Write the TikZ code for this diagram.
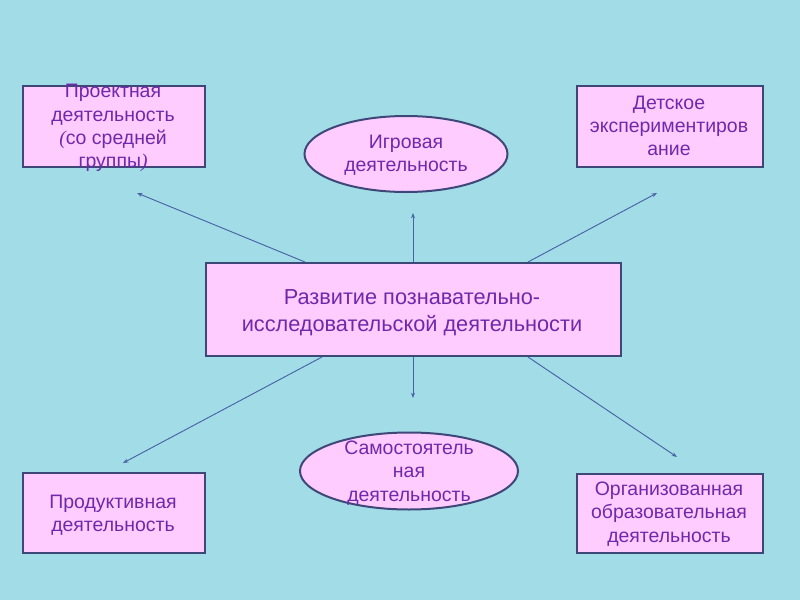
\documentclass[tikz,border=0pt]{standalone}
\usepackage{fontspec}
\setmainfont{Liberation Sans}
\newfontfamily\parenfont{Liberation Serif}
\usetikzlibrary{shapes.geometric,arrows.meta,calc}
\definecolor{bg}{RGB}{162,220,230}
\definecolor{boxfill}{RGB}{255,204,255}
\definecolor{boxline}{RGB}{62,72,120}
\definecolor{txt}{RGB}{112,40,170}
\definecolor{conn}{RGB}{70,100,165}
\begin{document}
\begin{tikzpicture}[x=0.75pt,y=-0.75pt,
  box/.style={draw=boxline,line width=1.5pt,fill=boxfill,inner sep=0pt,anchor=north west},
  oval/.style={draw=boxline,line width=1.5pt,fill=boxfill,ellipse,inner sep=0pt},
  lbl/.style={text=txt,align=center,font=\fontsize{14.6pt}{17.4pt}\selectfont},
  conn/.style={draw=conn,line width=0.7pt,-{Stealth[length=4pt,width=3pt]}}]
\fill[bg] (0,0) rectangle (800,600);
\useasboundingbox (0,0) rectangle (800,600);
% center
\node[box,minimum width=415*0.75pt,minimum height=93*0.75pt] (c) at (205,262) {};
\node[lbl,font=\fontsize{16.3pt}{20.2pt}\selectfont] (ct) at (412,313) {Развитие познавательно-\\исследовательской деятельности};
% boxes
\node[box,minimum width=182*0.75pt,minimum height=81*0.75pt] (tl) at (22,85) {};
\node[lbl] (tlt) at (113,128) {Проектная\\деятельность\\{\parenfont\itshape(}со средней\\группы{\parenfont\itshape)}};
\node[box,minimum width=186*0.75pt,minimum height=81*0.75pt] (tr) at (576,85) {};
\node[lbl] (trt) at (669,126) {Детское\\экспериментиров\\ание};
\node[box,minimum width=182*0.75pt,minimum height=80*0.75pt] (bl) at (22,472) {};
\node[lbl] (blt) at (113,515) {Продуктивная\\деятельность};
\node[box,minimum width=186*0.75pt,minimum height=79*0.75pt] (br) at (576,473) {};
\node[lbl] (brt) at (669,514) {Организованная\\образовательная\\деятельность};
% ovals
\node[oval,minimum width=203*0.75pt,minimum height=76*0.75pt] (to) at (406,154) {};
\node[lbl] (tot) at (406,155) {Игровая\\деятельность};
\node[oval,minimum width=218*0.75pt,minimum height=77*0.75pt] (bo) at (409,471) {};
\node[lbl] (bot) at (409,473) {Самостоятель\\ная\\деятельность};
% free ends
\coordinate (e1) at (137,193);
\coordinate (e2) at (657,193);
\coordinate (e3) at (413,213);
\coordinate (e4) at (413,398);
\coordinate (e5) at (123,463);
\coordinate (e6) at (677,457);
% connectors
\draw[conn] ($(c.north west)+(100,0)$) -- (e1);
\draw[conn] ($(c.north west)+(323,0)$) -- (e2);
\draw[conn] ($(c.north west)+(208,0)$) -- (e3);
\draw[conn] ($(c.south west)+(208,0)$) -- (e4);
\draw[conn] ($(c.south west)+(117,0)$) -- (e5);
\draw[conn] ($(c.south west)+(323,0)$) -- (e6);
\end{tikzpicture}
\end{document}
